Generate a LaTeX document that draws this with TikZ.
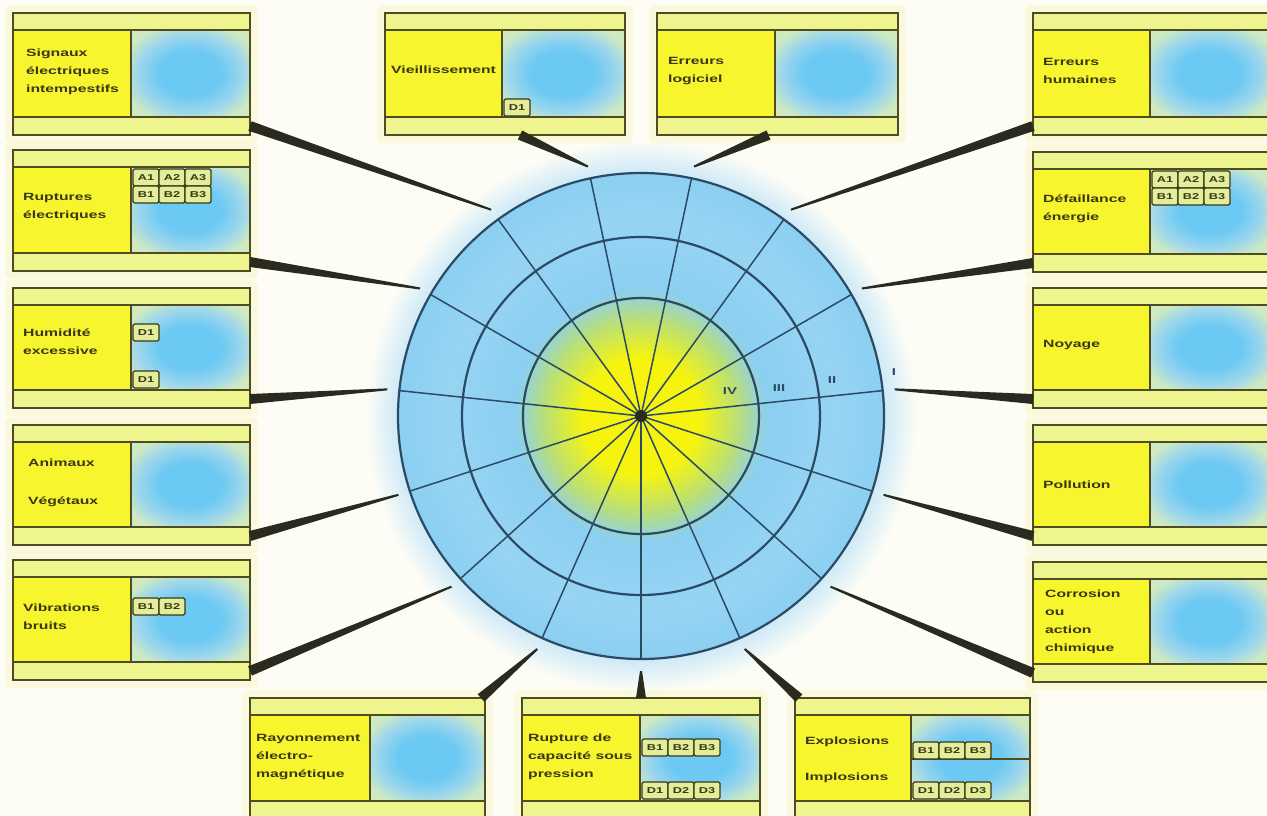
\documentclass[tikz,border=0pt]{standalone}
\usepackage{fontspec}
\usetikzlibrary{calc}
\newfontfamily\lab[FakeStretch=1.5]{Liberation Sans}
\definecolor{ink}{HTML}{3A3712}
\definecolor{frame}{HTML}{4F4B22}
\definecolor{strip}{HTML}{EEF48E}
\definecolor{ypanel}{HTML}{F7F52E}
\definecolor{bpanel}{HTML}{6CC9F3}
\definecolor{bpanelmid}{HTML}{9CD6EC}
\definecolor{bpanelout}{HTML}{CFEAC0}
\definecolor{badgefill}{HTML}{E3EE9C}
\definecolor{cyel}{HTML}{F6F40E}
\definecolor{cgreen}{HTML}{B9DF78}
\definecolor{cblue}{HTML}{8BCFF1}
\definecolor{cblueb}{HTML}{97D4F2}
\definecolor{cline}{HTML}{2D4A64}
\definecolor{halo}{HTML}{F6F2A6}
\definecolor{glow}{HTML}{CDE9F7}
\definecolor{conn}{HTML}{2A2A1E}
\definecolor{bg}{HTML}{FDFDF6}
\pgfdeclareradialshading{disc}{\pgfpoint{0bp}{0bp}}{color(0bp)=(cyel); color(6bp)=(cyel); color(10bp)=(cgreen); color(13bp)=(cblue); color(20bp)=(cblueb); color(25bp)=(cblue); color(50bp)=(cblue)}
\pgfdeclareradialshading{glowshade}{\pgfpoint{0bp}{0bp}}{color(0bp)=(glow); color(22bp)=(glow); color(25bp)=(bg); color(50bp)=(bg)}
\pgfdeclareradialshading{panelshade}{\pgfpoint{0bp}{0bp}}{color(0bp)=(bpanel); color(13bp)=(bpanel); color(22bp)=(bpanelmid); color(30bp)=(bpanelout); color(50bp)=(bpanelout)}
\tikzset{
  boxframe/.style={fill=strip, draw=none, inner sep=0pt, outer sep=0pt},
  boxline/.style={draw=frame, line width=2.2pt},
  lbl/.style={anchor=west, align=left, inner sep=0pt, text=ink, font=\lab\bfseries\fontsize{10.5}{18}\selectfont},
  badge/.style={draw=ink, line width=1.3pt, fill=badgefill, rounded corners=1.5pt, minimum width=26pt, minimum height=17pt, inner sep=0pt, outer sep=0pt, text=ink, font=\lab\bfseries\fontsize{8.5}{8.5}\selectfont},
  ring/.style={draw=cline, line width=2.2pt},
  spoke/.style={draw=cline, line width=1.5pt},
  clbl/.style={inner sep=0pt, text=cline, font=\lab\bfseries\fontsize{10}{10}\selectfont},
  connfill/.style={fill=conn}
}
\newcommand\riskbox[6]{%
  \fill[halo, opacity=0.3, rounded corners=6pt] (#2-8,#3-8) rectangle ++(#4+16,#5+16);
  \node[boxframe, minimum width=#4pt, minimum height=#5pt, anchor=north west] (#1) at (#2,#3) {};
  \fill[ypanel] ($(#1.north west)+(1,17)$) rectangle ($(#1.south west)+(#6,-18)$);
  \shade[shading=panelshade] ($(#1.north west)+(#6,17)$) rectangle ($(#1.south east)+(-1,-18)$);
  \draw[boxline] ($(#1.north west)+(0,17)$) -- ($(#1.north east)+(0,17)$);
  \draw[boxline] ($(#1.south west)+(0,-18)$) -- ($(#1.south east)+(0,-18)$);
  \draw[boxline] ($(#1.north west)+(#6,17)$) -- ($(#1.south west)+(#6,-18)$);
  \draw[boxline] (#1.north west) rectangle (#1.south east);
}
\newcommand\riskwedge[2]{%
  \fill[connfill] ($(#1)!5pt!90:(#2)$) -- ($(#2)!1pt!-90:(#1)$) -- ($(#2)!1pt!90:(#1)$) -- ($(#1)!5pt!-90:(#2)$) -- cycle;
}
\begin{document}
\begin{tikzpicture}[x=1pt,y=-1pt]
\clip (0,0) rectangle (1267,815);
\useasboundingbox (0,0) rectangle (1267,815);
\fill[bg] (0,0) rectangle (1267,815);

% ---------- wheel ----------
\coordinate (C) at (641,416);
\shade[shading=glowshade] (C) circle (276);
\shade[shading=disc] (C) circle (243);
\foreach \a in {6,30,...,342} \draw[spoke] (C) -- ++(-\a:243);
\draw[ring] (C) circle (118);
\draw[ring] (C) circle (179);
\draw[ring] (C) circle (243);
\fill[conn] (C) circle (6);
\node[clbl] (l4) at (730,391) {IV};
\node[clbl] (l3) at (779,388) {III};
\node[clbl] (l2) at (832,380) {II};
\node[clbl] (l1) at (894,372) {I};

% ---------- boxes ----------
\riskbox{b1}{13}{13}{237}{122}{118}
\riskbox{b2}{13}{150}{237}{121}{118}
\riskbox{b3}{13}{288}{237}{120}{118}
\riskbox{b4}{13}{425}{237}{120}{118}
\riskbox{b5}{13}{560}{237}{120}{118}
\riskbox{b6}{385}{13}{240}{122}{117}
\riskbox{b7}{657}{13}{241}{122}{118}
\riskbox{b8}{1033}{13}{237}{122}{117}
\riskbox{b9}{1033}{152}{237}{120}{117}
\riskbox{b10}{1033}{288}{237}{120}{117}
\riskbox{b11}{1033}{425}{237}{120}{117}
\riskbox{b12}{1033}{562}{237}{120}{117}
\riskbox{b13}{250}{698}{235}{121}{120}
\riskbox{b14}{522}{698}{238}{121}{118}
\riskbox{b15}{795}{698}{235}{121}{116}

% ---------- texts ----------
\node[lbl] (t1) at (26,72) {Signaux\\électriques\\intempestifs};
\node[lbl] (t2) at (23,207) {Ruptures\\électriques};
\node[lbl] (t3) at (23,342) {Humidité\\excessive};
\node[lbl] (t4a) at (28,463) {Animaux};
\node[lbl] (t4b) at (28,502) {Végétaux};
\node[lbl] (t5) at (23,617) {Vibrations\\bruits};
\node[lbl] (t6) at (391,70) {Vieillissement};
\node[lbl] (t7) at (668,71) {Erreurs\\logiciel};
\node[lbl] (t8) at (1043,71) {Erreurs\\humaines};
\node[lbl] (t9) at (1043,209) {Défaillance\\énergie};
\node[lbl] (t10) at (1043,345) {Noyage};
\node[lbl] (t11) at (1043,485) {Pollution};
\node[lbl] (t12) at (1045,622) {Corrosion\\ou\\action\\chimique};
\node[lbl] (t13) at (256,757) {Rayonnement\\électro-\\magnétique};
\node[lbl] (t14) at (528,757) {Rupture de\\capacité sous\\pression};
\node[lbl] (t15a) at (805,742) {Explosions};
\node[lbl] (t15b) at (805,778) {Implosions};

% ---------- badges ----------
\node[badge, anchor=north west] (b2a1) at (133,169) {A1};
\node[badge, anchor=west] (b2a2) at (b2a1.east) {A2};
\node[badge, anchor=west] (b2a3) at (b2a2.east) {A3};
\node[badge, anchor=north] (b2b1) at (b2a1.south) {B1};
\node[badge, anchor=north] (b2b2) at (b2a2.south) {B2};
\node[badge, anchor=north] (b2b3) at (b2a3.south) {B3};

\node[badge, anchor=north west] (b9a1) at (1152,171) {A1};
\node[badge, anchor=west] (b9a2) at (b9a1.east) {A2};
\node[badge, anchor=west] (b9a3) at (b9a2.east) {A3};
\node[badge, anchor=north] (b9b1) at (b9a1.south) {B1};
\node[badge, anchor=north] (b9b2) at (b9a2.south) {B2};
\node[badge, anchor=north] (b9b3) at (b9a3.south) {B3};

\node[badge, anchor=north west] (b3d1) at (133,324) {D1};
\node[badge, anchor=north west] (b3d2) at (133,371) {D1};

\node[badge, anchor=north west] (b5b1) at (133,598) {B1};
\node[badge, anchor=west] (b5b2) at (b5b1.east) {B2};

\node[badge, anchor=north west] (b6d1) at (504,99) {D1};

\node[badge, anchor=north west] (b14b1) at (642,739) {B1};
\node[badge, anchor=west] (b14b2) at (b14b1.east) {B2};
\node[badge, anchor=west] (b14b3) at (b14b2.east) {B3};
\node[badge, anchor=north west] (b14d1) at (642,782) {D1};
\node[badge, anchor=west] (b14d2) at (b14d1.east) {D2};
\node[badge, anchor=west] (b14d3) at (b14d2.east) {D3};

\draw[boxline] ($(b15.north west)+(116,61)$) -- ($(b15.north east)+(0,61)$);
\node[badge, anchor=south west] (b15b1) at (913,759) {B1};
\node[badge, anchor=west] (b15b2) at (b15b1.east) {B2};
\node[badge, anchor=west] (b15b3) at (b15b2.east) {B3};
\node[badge, anchor=north west] (b15d1) at (913,782) {D1};
\node[badge, anchor=west] (b15d2) at (b15d1.east) {D2};
\node[badge, anchor=west] (b15d3) at (b15d2.east) {D3};

% ---------- connectors ----------
\coordinate (e1) at ($(C)+(-126:255)$);
\coordinate (e2) at ($(C)+(-150:255)$);
\coordinate (e3) at ($(C)+(-174:255)$);
\coordinate (e4) at ($(C)+(-198:255)$);
\coordinate (e5) at ($(C)+(-222:255)$);
\coordinate (e13) at ($(C)+(-246:255)$);
\coordinate (e14) at ($(C)+(-270:255)$);
\coordinate (e15) at ($(C)+(-294:255)$);
\coordinate (e12) at ($(C)+(-318:255)$);
\coordinate (e11) at ($(C)+(-342:255)$);
\coordinate (e10) at ($(C)+(-6:255)$);
\coordinate (e9) at ($(C)+(-30:255)$);
\coordinate (e8) at ($(C)+(-54:255)$);
\coordinate (e7) at ($(C)+(-78:255)$);
\coordinate (e6) at ($(C)+(-102:255)$);

\coordinate (s1) at ($(b1.south east)+(0,-9)$);
\coordinate (s2) at ($(b2.south east)+(0,-9)$);
\coordinate (s3) at ($(b3.south east)+(0,-9)$);
\coordinate (s4) at ($(b4.south east)+(0,-9)$);
\coordinate (s5) at ($(b5.south east)+(0,-9)$);
\coordinate (s8) at ($(b8.south west)+(0,-9)$);
\coordinate (s9) at ($(b9.south west)+(0,-9)$);
\coordinate (s10) at ($(b10.south west)+(0,-9)$);
\coordinate (s11) at ($(b11.south west)+(0,-9)$);
\coordinate (s12) at ($(b12.south west)+(0,-9)$);
\coordinate (s6) at ($(b6.south)+(15,0)$);
\coordinate (s7) at ($(b7.south)+(-9,0)$);
\coordinate (s13) at ($(b13.north east)+(-4,0)$);
\coordinate (s14) at (b14.north);
\coordinate (s15) at ($(b15.north west)+(4,0)$);

\foreach \i in {1,...,15} {\riskwedge{s\i}{e\i}}
\end{tikzpicture}
\end{document}
